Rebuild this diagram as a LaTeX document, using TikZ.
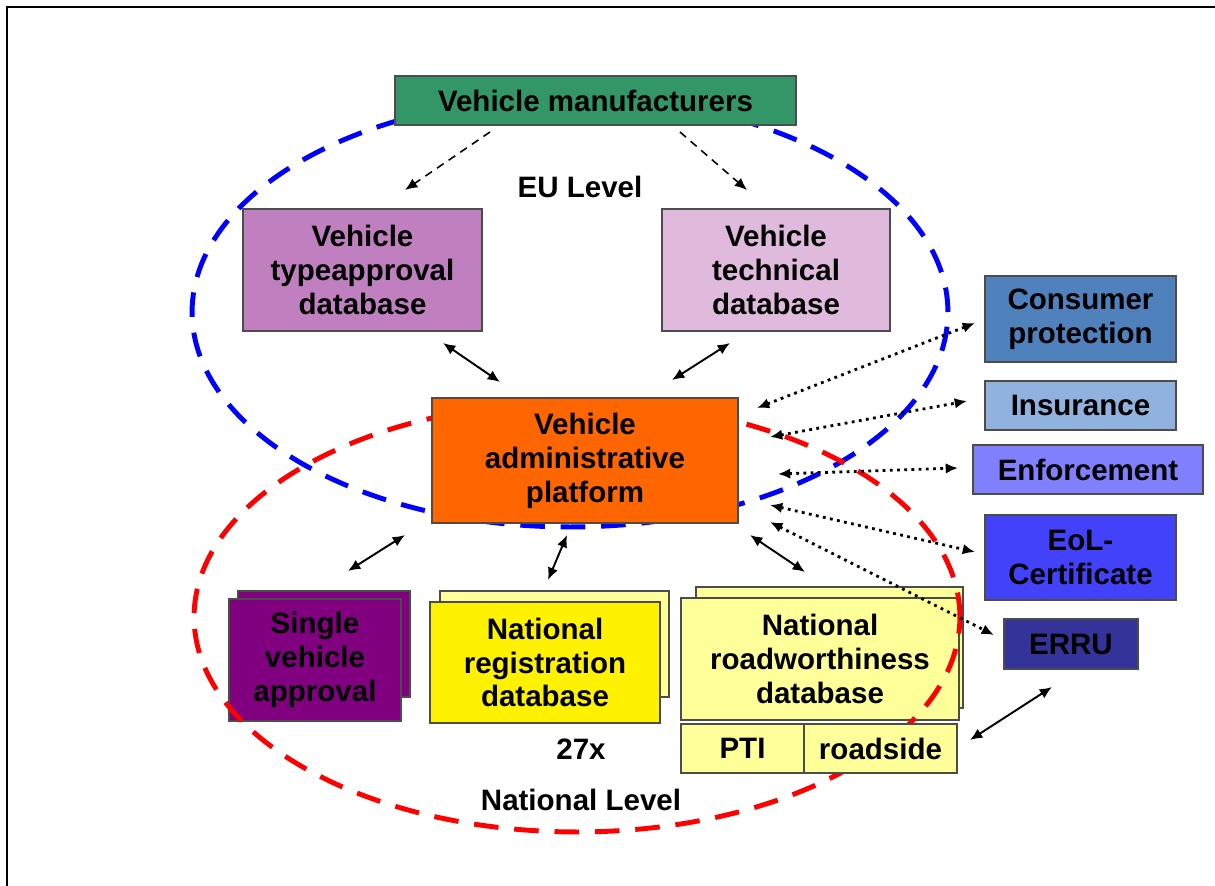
\documentclass[tikz,border=0pt]{standalone}
\usepackage{fontspec}
\setmainfont{Liberation Sans}
\usetikzlibrary{arrows.meta}

\definecolor{mangreen}{RGB}{51,150,102}
\definecolor{typeviolet}{RGB}{192,128,192}
\definecolor{techviolet}{RGB}{224,186,221}
\definecolor{adminorange}{RGB}{255,102,0}
\definecolor{consblue}{RGB}{79,129,189}
\definecolor{insblue}{RGB}{145,178,222}
\definecolor{enfblue}{RGB}{128,128,255}
\definecolor{eolblue}{RGB}{66,66,250}
\definecolor{errublue}{RGB}{51,51,153}
\definecolor{svapurple}{RGB}{128,0,128}
\definecolor{paleyellow}{RGB}{255,255,153}

\newcommand{\pxu}{0.02cm}

\tikzset{
  box/.style={draw=black!70, line width=0.8pt, inner sep=0pt, outer sep=0pt,
    align=center, font=\bfseries\fontsize{16.8}{19.3}\selectfont},
  sz/.style 2 args={minimum width=#1*\pxu, minimum height=#2*\pxu},
  lbl/.style={font=\bfseries\fontsize{16.8}{19.3}\selectfont},
  dbl/.style={<->, line width=1.1pt},
  dots/.style={<->, line width=1.6pt, dash pattern=on 1.6pt off 2.5pt},
  feed/.style={->, line width=0.9pt, dash pattern=on 4.5pt off 3.5pt},
  level/.style={line width=2.8pt, dash pattern=on 14pt off 9pt},
}

\begin{document}
\begin{tikzpicture}[x=0.02cm, y=-0.02cm, >={Latex[length=7pt,width=6pt]}]
\useasboundingbox (0,0) rectangle (1215,886);
\draw[line width=1.7pt] (7,886) -- (7,7) -- (1215,7);

% national cards (back copies first)
\node[box, fill=svapurple, sz={172}{106}] (svaback) at (324,644) {};
\node[box, fill=svapurple, sz={172}{122}] (sva) at (315,660) {Single\\vehicle\\approval};
\node[box, fill=paleyellow, sz={229}{106}] (nrdback) at (554.5,644) {};
\node[box, fill=yellow, sz={230}{121}] (nrd) at (545,662.5) {National\\registration\\database};
\node[box, fill=paleyellow, sz={267}{121}] (nrwback) at (829.5,647.5) {};
\node[box, fill=paleyellow, sz={278}{122}] (nrw) at (820,659) {National\\roadworthiness\\database};

% EU databases
\node[box, fill=typeviolet, sz={239}{122}] (tya) at (362.5,270) {Vehicle\\typeapproval\\database};
\node[box, fill=techviolet, sz={228}{122}] (tec) at (776,270) {Vehicle\\technical\\database};

% users on the right
\node[box, fill=consblue, sz={191}{86}] (con) at (1080.5,319) {Consumer\\protection};
\node[box, fill=insblue, sz={191}{49}] (ins) at (1080.5,405.5) {Insurance};
\node[box, fill=enfblue, sz={230}{49}] (enf) at (1088,469.5) {Enforcement};
\node[box, fill=eolblue, sz={191}{85}] (eol) at (1080.5,557.5) {EoL-\\Certificate};
\node[box, fill=errublue, sz={134}{50}] (erru) at (1071,644) {ERRU};

% the two levels
\draw[level, blue] (570,312) ellipse [x radius=7.56cm, y radius=4.3cm];
\draw[level, red] (577,617) ellipse [x radius=7.66cm, y radius=4.3cm];

\node[box, fill=paleyellow, sz={123}{49}] (pti) at (742.5,748.5) {PTI};
\node[box, fill=paleyellow, sz={153}{49}] (road) at (880.5,748.5) {roadside};

\node[box, fill=mangreen, sz={401}{49}] (man) at (595.5,100.5) {Vehicle manufacturers};
\node[box, fill=adminorange, sz={306}{125}] (adm) at (585,460.5) {Vehicle\\administrative\\platform};

\node[lbl] (eu) at (580,187) {EU Level};
\node[lbl] (n27) at (581,749) {27x};
\node[lbl] (natl) at (581,800) {National Level};

% connectors
\draw[feed] ([shift={(-105.5,7)}]man.south) -- ([shift={(42.5,-19)}]tya.north);
\draw[feed] ([shift={(84.5,7)}]man.south) -- ([shift={(-29,-19)}]tec.north);

\draw[dbl] ([shift={(80.5,12)}]tya.south) -- ([shift={(-85,-16)}]adm.north);
\draw[dbl] ([shift={(-46,12)}]tec.south) -- ([shift={(87,-18)}]adm.north);
\draw[dbl] ([shift={(-180,12)}]adm.south) -- ([shift={(33,-28)}]sva.north);
\draw[dbl] ([shift={(-18,12)}]adm.south) -- ([shift={(3,-22)}]nrd.north);
\draw[dbl] ([shift={(165,12)}]adm.south) -- ([shift={(-15,-26)}]nrw.north);
\draw[dbl] ([shift={(-19,18)}]erru.south) -- ([shift={(13,-8.5)}]road.east);

\draw[dots] ([shift={(19,10)}]adm.north east) -- ([shift={(-10,4)}]con.west);
\draw[dots] ([shift={(32,-23.5)}]adm.east) -- ([shift={(-18,-4.5)}]ins.west);
\draw[dots] ([shift={(40,13.5)}]adm.east) -- ([shift={(-15,-1.5)}]enf.west);
\draw[dots] ([shift={(32,44.5)}]adm.east) -- ([shift={(-10,-5.5)}]eol.west);
\draw[dots] ([shift={(32,-1)}]adm.south east) -- ([shift={(-10,-9)}]erru.west);
\end{tikzpicture}
\end{document}
